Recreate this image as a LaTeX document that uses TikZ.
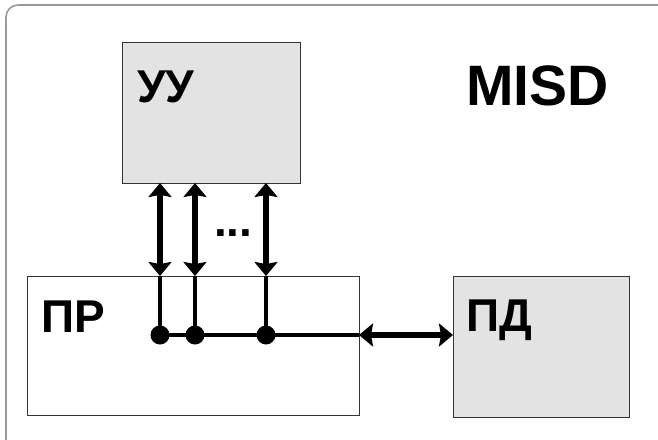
\documentclass[tikz,border=0pt]{standalone}
\usepackage{fontspec}
\setmainfont{Liberation Sans}
\usetikzlibrary{arrows.meta}
\begin{document}
\begin{tikzpicture}[x=1pt,y=-1pt,
  blockbox/.style={draw=black!80,line width=1.4pt,inner sep=0pt,anchor=north west},
  lbl/.style={inner sep=0pt,anchor=base west,font=\fontsize{46}{46}\selectfont\bfseries},
  bus/.style={line width=5.5pt,{Stealth[length=14pt,width=23pt,inset=2pt]}-{Stealth[length=14pt,width=23pt,inset=2pt]}},
  wire/.style={line width=4.5pt},
  junct/.style={circle,fill=black,inner sep=0pt,minimum size=19pt}]
\useasboundingbox (0,0) rectangle (658,439);
\begin{scope}
\clip (0,0) rectangle (658,439);
\draw[black!40,line width=1.6pt,rounded corners=12pt] (6,5) rectangle (672,452);
\end{scope}
% blocks
\node[blockbox,fill=black!11,minimum width=178pt,minimum height=141pt] (uu) at (122,42) {};
\node[blockbox,fill=white,minimum width=332pt,minimum height=139pt] (pr) at (27,276) {};
\node[blockbox,fill=black!11,minimum width=176pt,minimum height=141pt] (pd) at (453,276) {};
% labels
\node[lbl] (uul) at (137,102) {УУ};
\node[lbl] (prl) at (41,332) {ПР};
\node[lbl] (pdl) at (466,331) {ПД};
\node[inner sep=0pt,anchor=base west,font=\fontsize{57}{57}\selectfont\bfseries] (misd) at (466,105) {MISD};
\node[lbl] (dots) at (214,236) {...};
% coordinates
\coordinate (a1) at (160,183);
\coordinate (a2) at (195,183);
\coordinate (a3) at (266,183);
\coordinate (b1) at (160,276);
\coordinate (b2) at (195,276);
\coordinate (b3) at (266,276);
\node[junct] (j1) at (160,335) {};
\node[junct] (j2) at (195,335) {};
\node[junct] (j3) at (266,335) {};
\coordinate (pe) at (359,335);
\coordinate (pdw) at (453,335);
% connectors
\draw[bus] (a1) -- (b1);
\draw[bus] (a2) -- (b2);
\draw[bus] (a3) -- (b3);
\draw[wire] (b1) -- (j1.center);
\draw[wire] (b2) -- (j2.center);
\draw[wire] (b3) -- (j3.center);
\draw[wire] (j1.center) -- (pe);
\draw[bus] (pe) -- (pdw);
\end{tikzpicture}
\end{document}
